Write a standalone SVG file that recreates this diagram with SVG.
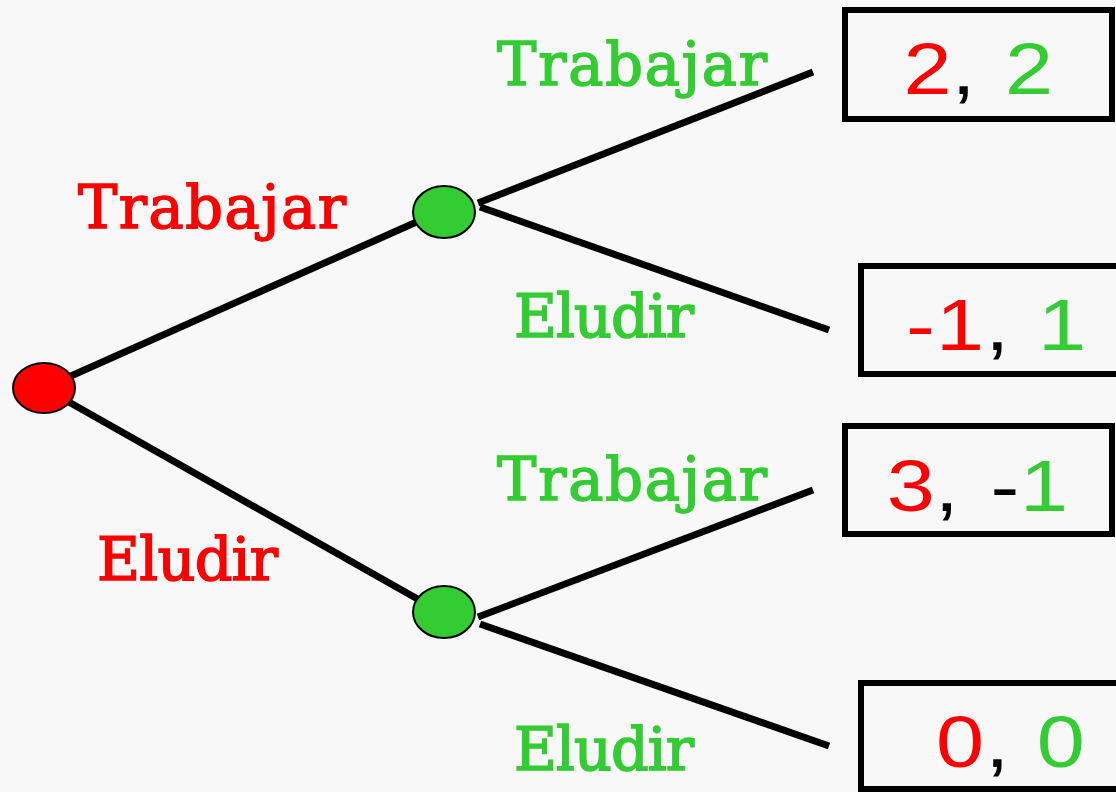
<svg xmlns="http://www.w3.org/2000/svg" width="1116" height="792" viewBox="0 0 1116 792">
  <style>
    .edge { stroke: #000; stroke-width: 7; fill: none; }
    .node { stroke: #000; stroke-width: 2; }
    .p1 { fill: #ff0000; }
    .p2 { fill: #33cc33; }
    .lbl { font-family: "DejaVu Serif", "Liberation Serif", serif; font-size: 59px; stroke-width: 1.6; }
    .lbl.p1 { stroke: #ff0000; }
    .lbl.p2 { stroke: #33cc33; }
    .box { fill: none; stroke: #000; stroke-width: 6; }
    .pay { font-family: "Liberation Sans", Arial, sans-serif; font-size: 72px; }
    .pay tspan { text-anchor: middle; }
    .blk { fill: #000; }
  </style>
  <rect width="1116" height="792" fill="#f8f8f8"/>

  <!-- branches -->
  <g id="edges">
    <line class="edge" x1="44" y1="388" x2="430" y2="216"/>
    <line class="edge" x1="44" y1="388" x2="430" y2="606"/>
    <line class="edge" x1="478" y1="203" x2="813" y2="72"/>
    <line class="edge" x1="480" y1="207" x2="829" y2="330"/>
    <line class="edge" x1="478" y1="617" x2="813" y2="490"/>
    <line class="edge" x1="480" y1="624" x2="829" y2="746"/>
  </g>

  <!-- decision nodes -->
  <g id="root">
    <ellipse class="node p1" cx="44" cy="388" rx="31" ry="25"/>
  </g>
  <g id="p2-top">
    <ellipse class="node p2" cx="444" cy="212" rx="31" ry="26"/>
  </g>
  <g id="p2-bottom">
    <ellipse class="node p2" cx="444" cy="612" rx="31" ry="26"/>
  </g>

  <!-- action labels -->
  <g id="labels">
    <text class="lbl p1" x="78" y="228" textLength="268">Trabajar</text>
    <text class="lbl p1" x="97" y="580" textLength="181">Eludir</text>
    <text class="lbl p2" x="497" y="85" textLength="270">Trabajar</text>
    <text class="lbl p2" x="514" y="337" textLength="180">Eludir</text>
    <text class="lbl p2" x="497" y="500" textLength="270">Trabajar</text>
    <text class="lbl p2" x="514" y="770" textLength="180">Eludir</text>
  </g>

  <!-- payoff boxes; digits drawn 1.2x wide, tspan x values are in the scaled frame -->
  <g id="payoff-tt">
    <rect class="box" x="845" y="10" width="267" height="109"/>
    <text class="pay" y="94" transform="scale(1.2,1)"><tspan class="p1" x="773">2</tspan><tspan class="blk" x="803">,</tspan><tspan class="p2" x="857.5">2</tspan></text>
  </g>
  <g id="payoff-te">
    <rect class="box" x="861" y="266" width="300" height="108"/>
    <text class="pay" y="350" transform="scale(1.2,1)"><tspan class="p1" x="767">-</tspan><tspan class="p1" x="800">1</tspan><tspan class="blk" x="831">,</tspan><tspan class="p2" x="885">1</tspan></text>
  </g>
  <g id="payoff-et">
    <rect class="box" x="845" y="426" width="267" height="108"/>
    <text class="pay" y="511" transform="scale(1.2,1)"><tspan class="p1" x="759">3</tspan><tspan class="blk" x="789">,</tspan><tspan class="blk" x="837.5">-</tspan><tspan class="p2" x="870">1</tspan></text>
  </g>
  <g id="payoff-ee">
    <rect class="box" x="861" y="683" width="300" height="106"/>
    <text class="pay" y="767" transform="scale(1.2,1)"><tspan class="p1" x="800">0</tspan><tspan class="blk" x="831">,</tspan><tspan class="p2" x="884">0</tspan></text>
  </g>
</svg>
